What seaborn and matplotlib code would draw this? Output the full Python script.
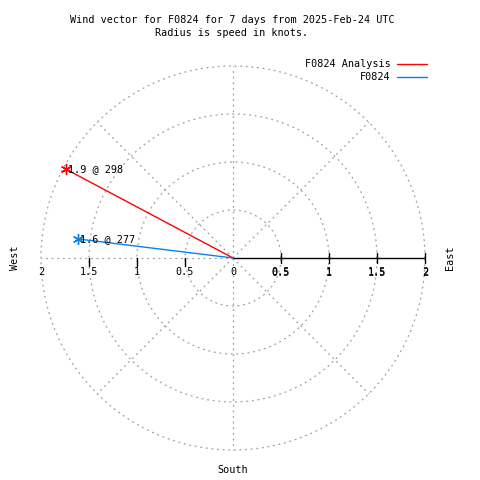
import numpy as np
import pandas as pd
import matplotlib
matplotlib.use("Agg")
import matplotlib.pyplot as plt
import seaborn as sns

# Wind vectors: speed (knots) and direction (degrees, compass)
series = ["F0824 Analysis", "F0824"]
speeds = [1.97, 1.63]
directions = [298, 277]
point_labels = ["1.9 @ 298", "1.6 @ 277"]
colors = ["#ff0000", "#0a80f0"]

rings = [0.5, 1.0, 1.5, 2.0]
tick_labels = ["0.5", "1", "1.5", "2"]

sns.set_style("white")
plt.rcParams['font.family'] = ['DejaVu Sans Mono']
plt.rcParams['text.color'] = 'black'
FS = 7.3

fig = plt.figure(figsize=(4.8, 4.8), dpi=100)
ax = fig.add_axes([0, 0, 1, 1])
ax.set_xlim(-233 / 96, 247 / 96)
ax.set_ylim(-222 / 96, 258 / 96)
ax.axis("off")

grid_kw = dict(color="#a0a0a0", lw=0.9, ls=(0, (1.5, 3)), zorder=1)

# polar grid: rings and radial lines
t = np.linspace(0, 2 * np.pi, 400)
for r in rings:
    ax.plot(r * np.cos(t), r * np.sin(t), **grid_kw)
for a in range(45, 360, 45):
    ang = np.deg2rad(a)
    ax.plot([0, 2 * np.cos(ang)], [0, 2 * np.sin(ang)], **grid_kw)

# solid radial axis to the east with ticks
ax.plot([0, 2], [0, 0], color="black", lw=1, zorder=2)
tk = 5 / 96
for r in rings:
    ax.plot([r, r], [-tk, tk], color="black", lw=1, zorder=2)
for r in rings[:-1]:
    ax.plot([-r, -r], [-1.5 * tk, 0], color="black", lw=1, zorder=2)

# tick labels along the horizontal axis
ty = -14 / 96
ax.text(0, ty, "0", ha="center", va="center", fontsize=FS)
for r, lab in zip(rings, tick_labels):
    ax.text(r, ty, lab, ha="center", va="center", fontsize=FS)
    ax.text(r, ty - 1 / 96, lab, ha="center", va="center", fontsize=FS)
    ax.text(-r, ty, lab, ha="center", va="center", fontsize=FS)

# vectors
rows = []
for name, s, d in zip(series, speeds, directions):
    ang = np.deg2rad(90 - d)
    rows.append({"series": name, "x": 0.0, "y": 0.0, "step": 0})
    rows.append({"series": name, "x": s * np.cos(ang), "y": s * np.sin(ang), "step": 1})
df = pd.DataFrame(rows)

sns.lineplot(data=df, x="x", y="y", hue="series", units="series", estimator=None,
             sort=False, palette=dict(zip(series, colors)), lw=1, ax=ax, zorder=3)

ends = df[df["step"] == 1]
for (_, row), c, lab in zip(ends.iterrows(), colors, point_labels):
    ax.plot(row["x"], row["y"], marker=(6, 2, 0), ms=8, color=c, mew=1, zorder=4)
    ax.text(row["x"] + 2 / 96, row["y"], lab, ha="left", va="center", fontsize=FS, zorder=5)

ax.legend(loc="upper right", bbox_to_anchor=(436 / 480, 1 - 50 / 480),
          bbox_transform=fig.transFigure, frameon=False, markerfirst=False,
          fontsize=FS, handlelength=2.9, handletextpad=0.7, labelspacing=0.3)

# compass labels and title
ax.text(15 / 96 - 233 / 96, 0, "West", rotation=90, ha="center", va="center", fontsize=FS)
ax.text(450 / 96 - 233 / 96, 0, "East", rotation=90, ha="center", va="center", fontsize=FS)
ax.text(0, -212 / 96, "South", ha="center", va="center", fontsize=FS)
fig.text(232 / 480, 1 - 20 / 480, "Wind vector for F0824 for 7 days from 2025-Feb-24 UTC",
         ha="center", va="center", fontsize=FS)
fig.text(232 / 480, 1 - 33 / 480, "Radius is speed in knots.",
         ha="center", va="center", fontsize=FS)

fig.savefig("out.png", dpi=100)
